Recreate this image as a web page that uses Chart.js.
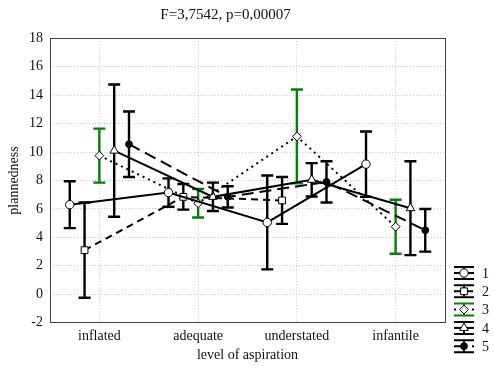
<!DOCTYPE html>
<html>
<head>
<meta charset="utf-8">
<script src="https://cdn.jsdelivr.net/npm/chart.js@4"></script>
<style>
  html, body { margin: 0; padding: 0; background: #fff; }
  #wrap { width: 494px; height: 369px; }
</style>
</head>
<body>
<div id="wrap"><canvas id="myChart"></canvas></div>
<script>
// categories on the x axis
var categories = ['inflated', 'adequate', 'understated', 'infantile'];
var seriesNames = ['1', '2', '3', '4', '5'];

// group means
var mean1 = [6.3, 7.15, 5.05, 9.15];
var mean2 = [3.1, 6.85, 6.6, null];
var mean3 = [9.75, 6.4, 11.1, 4.75];
var mean4 = [10.1, 6.85, 8.05, 6.05];
var mean5 = [10.55, 6.85, 7.9, 4.5];

// half length of the error bars
var err1 = [1.65, 1.0, 3.3, 2.3];
var err2 = [3.35, 0.9, 1.65, null];
var err3 = [1.9, 1.0, 3.3, 1.9];
var err4 = [4.65, 1.0, 1.17, 3.3];
var err5 = [2.3, 0.75, 1.45, 1.5];

var yTicks = [-2, 0, 2, 4, 6, 8, 10, 12, 14, 16, 18];

var FONT = '"Liberation Serif", "Times New Roman", serif';
var TXT = '#111';

// how the five groups are shifted inside each category
var shift = [-0.3, -0.15, 0, 0.15, 0.3];

var styles = [
    { dash: [], point: 'circle', radius: 4.2, fill: '#fff', err: '#000' },
    { dash: [7, 5], point: 'rect', radius: 4.8, fill: '#fff', err: '#000' },
    { dash: [2, 4], point: 'rectRot', radius: 4.4, fill: '#fff', err: '#008000' },
    { dash: [], point: 'triangle', radius: 5, fill: '#fff', err: '#000' },
    { dash: [12, 6], point: 'circle', radius: 3.4, fill: '#000', err: '#000' }
];

var means = [mean1, mean2, mean3, mean4, mean5];
var errs = [err1, err2, err3, err4, err5];

var datasets = means.map(function (m, i) {
    var pts = [];
    var e = [];
    m.forEach(function (v, j) {
        if (v === null) return;
        pts.push({ x: j + shift[i], y: v });
        e.push(errs[i][j]);
    });
    return {
        label: seriesNames[i],
        data: pts,
        err: e,
        errColor: styles[i].err,
        borderColor: '#000',
        borderWidth: 2,
        borderDash: styles[i].dash,
        pointStyle: styles[i].point,
        pointRadius: styles[i].radius,
        pointBackgroundColor: styles[i].fill,
        pointBorderColor: '#000',
        pointBorderWidth: 1,
        fill: false,
        tension: 0
    };
});

// error bars, drawn under the lines
var errorBars = {
    id: 'errorBars',
    beforeDatasetsDraw: function (chart) {
        var ctx = chart.ctx, x = chart.scales.x, y = chart.scales.y;
        chart.data.datasets.forEach(function (ds) {
            ctx.save();
            ctx.strokeStyle = ds.errColor;
            ctx.lineWidth = 2.4;
            ds.data.forEach(function (p, j) {
                var px = x.getPixelForValue(p.x);
                var top = y.getPixelForValue(p.y + ds.err[j]);
                var bot = y.getPixelForValue(p.y - ds.err[j]);
                ctx.beginPath();
                ctx.moveTo(px, top); ctx.lineTo(px, bot);
                ctx.moveTo(px - 6, top); ctx.lineTo(px + 6, top);
                ctx.moveTo(px - 6, bot); ctx.lineTo(px + 6, bot);
                ctx.stroke();
            });
            ctx.restore();
        });
    }
};

function marker(ctx, st, cx, cy) {
    var r = st.radius;
    ctx.beginPath();
    if (st.point === 'circle') {
        ctx.arc(cx, cy, r, 0, Math.PI * 2);
    } else if (st.point === 'rect') {
        var s = r * Math.SQRT1_2;
        ctx.rect(cx - s, cy - s, 2 * s, 2 * s);
    } else if (st.point === 'rectRot') {
        ctx.moveTo(cx - r, cy); ctx.lineTo(cx, cy - r); ctx.lineTo(cx + r, cy); ctx.lineTo(cx, cy + r); ctx.closePath();
    } else {
        ctx.moveTo(cx, cy - r); ctx.lineTo(cx + r * 0.87, cy + r * 0.5); ctx.lineTo(cx - r * 0.87, cy + r * 0.5); ctx.closePath();
    }
    ctx.fillStyle = st.fill;
    ctx.fill();
    ctx.lineWidth = 1;
    ctx.strokeStyle = '#000';
    ctx.stroke();
}

// frame round the plot and the small legend at bottom right
var frameAndLegend = {
    id: 'frameAndLegend',
    beforeDatasetsDraw: function (chart) {
        var a = chart.chartArea, ctx = chart.ctx;
        ctx.save();
        ctx.strokeStyle = '#444';
        ctx.lineWidth = 1;
        ctx.strokeRect(Math.round(a.left) + 0.5, Math.round(a.top) + 0.5, Math.round(a.right - a.left), Math.round(a.bottom - a.top));
        ctx.restore();
    },
    afterDraw: function (chart) {
        var a = chart.chartArea, ctx = chart.ctx;
        var gx = a.right + 19;
        ctx.save();
        seriesNames.forEach(function (name, i) {
            var cy = chart.height - 96 + i * 18.3;
            var st = styles[i];
            ctx.lineWidth = 2;
            ctx.strokeStyle = st.err;
            ctx.beginPath();
            ctx.moveTo(gx - 10, cy - 6); ctx.lineTo(gx + 10, cy - 6);
            ctx.moveTo(gx - 10, cy + 6); ctx.lineTo(gx + 10, cy + 6);
            ctx.moveTo(gx, cy - 6); ctx.lineTo(gx, cy + 6);
            ctx.stroke();
            ctx.strokeStyle = '#000';
            ctx.setLineDash(st.dash);
            ctx.beginPath();
            ctx.moveTo(gx - 10, cy); ctx.lineTo(gx + 10, cy);
            ctx.stroke();
            ctx.setLineDash([]);
            marker(ctx, st, gx, cy);
            ctx.fillStyle = TXT;
            ctx.font = '14px ' + FONT;
            ctx.textBaseline = 'middle';
            ctx.textAlign = 'left';
            ctx.fillText(name, a.right + 37, cy + 1);
        });
        ctx.restore();
    }
};

var config = {
    type: 'line',
    data: { datasets: datasets },
    options: {
        responsive: true,
        maintainAspectRatio: false,
        animation: false,
        layout: { padding: { left: 6, right: 49, top: 0, bottom: 0 } },
        plugins: {
            legend: { display: false },
            tooltip: { enabled: false },
            title: {
                display: true,
                text: 'F=3,7542, p=0,00007',
                color: TXT,
                font: { family: FONT, size: 15, weight: 'normal' },
                padding: { top: 6.5, bottom: 13.8 }
            }
        },
        scales: {
            x: {
                type: 'linear',
                min: -0.5,
                max: 3.5,
                afterFit: function (s) { s.height = 46.3; },
                afterBuildTicks: function (s) {
                    s.ticks = categories.map(function (c, i) { return { value: i }; });
                },
                ticks: {
                    color: TXT,
                    padding: 5,
                    font: { family: FONT, size: 14 },
                    callback: function (v) { return categories[v]; }
                },
                grid: { color: '#c8c8c8', lineWidth: 1, drawTicks: false },
                border: { display: false, dash: [1, 2] },
                title: {
                    display: true,
                    text: 'level of aspiration',
                    color: TXT,
                    font: { family: FONT, size: 14 },
                    padding: { top: 0, bottom: 5.6 }
                }
            },
            y: {
                min: -2,
                max: 18,
                afterFit: function (s) { s.width = 44; },
                afterBuildTicks: function (s) {
                    s.ticks = yTicks.map(function (v) { return { value: v }; });
                },
                ticks: {
                    color: TXT,
                    padding: 7,
                    font: { family: FONT, size: 14 }
                },
                grid: { color: '#c8c8c8', lineWidth: 1, drawTicks: false },
                border: { display: false, dash: [1, 2] },
                title: {
                    display: true,
                    text: 'plannedness',
                    color: TXT,
                    font: { family: FONT, size: 14 },
                    padding: { top: 0, bottom: 0 }
                }
            }
        }
    },
    plugins: [errorBars, frameAndLegend]
};

var myChart = new Chart(document.getElementById('myChart'), config);
</script>
</body>
</html>
